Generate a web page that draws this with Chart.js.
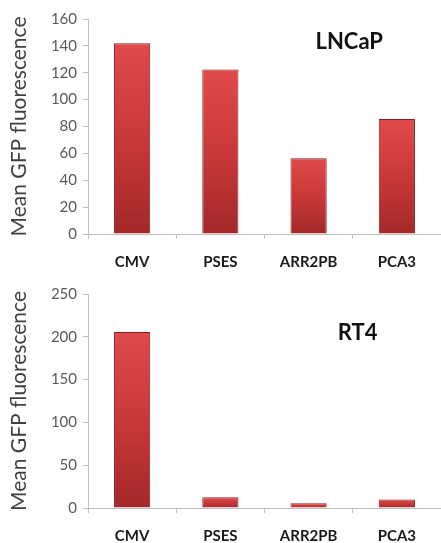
<!DOCTYPE html>
<html>
<head>
<meta charset="utf-8">
<script src="https://cdn.jsdelivr.net/npm/chart.js@4"></script>
<style>
  html, body { margin: 0; padding: 0; background: #ffffff; }
  body { width: 441px; height: 543px; position: relative; overflow: hidden; }
  .box { position: absolute; left: 0; width: 441px; }
  canvas { display: block; }
</style>
</head>
<body>
<div class="box" style="top:0;height:270px"><canvas id="c1" width="441" height="270"></canvas></div>
<div class="box" style="top:270px;height:273px"><canvas id="c2" width="441" height="273"></canvas></div>
<script>
// ---- data ----
const categories = ['CMV', 'PSES', 'ARR2PB', 'PCA3'];
const lncapValues = [142, 122.4, 56.3, 85.5];
const rt4Values = [205.5, 12.5, 5.5, 9.8];
const lncapTitle = 'LNCaP';
const rt4Title = 'RT4';
const yAxisTitle = 'Mean GFP fluorescence';
const lncapScale = [0, 160, 20];   // min, max, step
const rt4Scale = [0, 250, 50];

const FONT = "Lato, 'Open Sans', sans-serif";

function barGradient(ctx) {
  const chart = ctx.chart;
  const y = chart.scales && chart.scales.y;
  if (!chart.chartArea || !y || ctx.raw === undefined) return '#d43c3c';
  const top = y.getPixelForValue(ctx.raw);
  const base = y.getPixelForValue(0);
  if (!isFinite(top) || !isFinite(base) || base - top < 1) return '#d43c3c';
  const g = chart.ctx.createLinearGradient(0, top, 0, base);
  g.addColorStop(0, '#e04a4a');
  g.addColorStop(0.5, '#c93838');
  g.addColorStop(1, '#a32829');
  return g;
}

const panelTitle = {
  id: 'panelTitle',
  afterDraw(chart, args, opts) {
    const c = chart.ctx;
    const a = chart.chartArea;
    c.save();
    c.font = "bold 22px " + FONT;
    c.fillStyle = '#111111';
    c.textAlign = 'center';
    c.textBaseline = 'middle';
    c.fillText(opts.text, a.left + (a.right - a.left) * opts.fx, a.top + (a.bottom - a.top) * opts.fy);
    c.restore();
  }
};

function makeChart(id, values, scale, title, areaTop, areaBottom, canvasH, fx, fy) {
  return new Chart(document.getElementById(id), {
    type: 'bar',
    data: {
      labels: categories,
      datasets: [{
        data: values,
        backgroundColor: barGradient,
        borderColor: '#852020',
        borderWidth: 1,
        barPercentage: 0.41,
        categoryPercentage: 1.0
      }]
    },
    plugins: [panelTitle],
    options: {
      responsive: false,
      animation: false,
      events: [],
      layout: { padding: { top: areaTop, right: 0, bottom: 0, left: 0 } },
      plugins: {
        legend: { display: false },
        tooltip: { enabled: false },
        panelTitle: { text: title, fx: fx, fy: fy }
      },
      scales: {
        x: {
          afterFit(s) { s.height = canvasH - areaBottom; },
          grid: { display: true, drawOnChartArea: false, drawTicks: true, tickLength: 5, color: '#bfbfbf', offset: true },
          border: { display: true, color: '#bfbfbf', width: 1 },
          ticks: { color: '#1a1a1a', padding: 14, font: { family: FONT, size: 15, weight: 'bold' } }
        },
        y: {
          min: scale[0], max: scale[1],
          afterFit(s) { s.width = 88; },
          grid: { display: true, drawOnChartArea: false, drawTicks: true, tickLength: 5, color: '#bfbfbf' },
          border: { display: true, color: '#bfbfbf', width: 1 },
          ticks: { stepSize: scale[2], color: '#595959', padding: 6, font: { family: FONT, size: 15 } },
          title: { display: true, text: yAxisTitle, color: '#404040', padding: { top: 7, bottom: 0 }, font: { family: FONT, size: 21 } }
        }
      }
    }
  });
}

makeChart('c1', lncapValues, lncapScale, lncapTitle, 19, 234, 270, 0.74, 0.105);
makeChart('c2', rt4Values, rt4Scale, rt4Title, 24, 238, 273, 0.764, 0.18);
</script>
</body>
</html>
